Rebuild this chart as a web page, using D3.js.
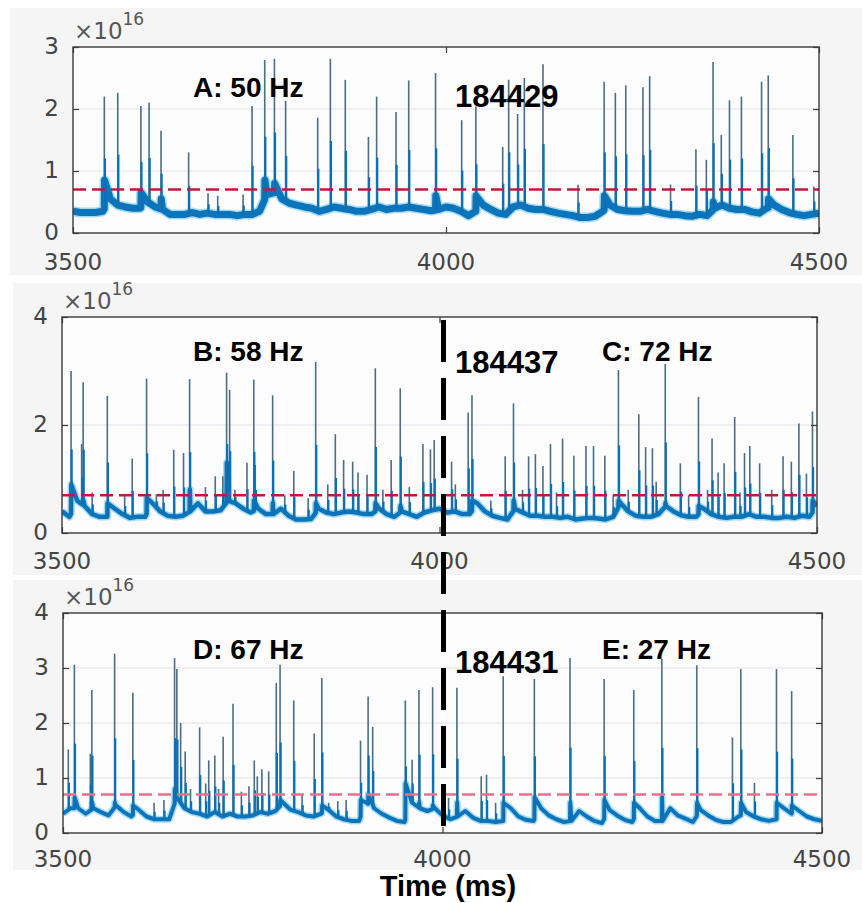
<!DOCTYPE html>
<html>
<head>
<meta charset="utf-8">
<script src="https://cdn.jsdelivr.net/npm/d3@7"></script>
<style>body{margin:0;background:#fff;}</style>
</head>
<body>
<script>
const width = 862;
const height = 903;

// time axis (ms) and baseline sampling grid
const timeTicks = [3500, 4000, 4500];
const baseStart = 3500, baseStep = 10;
const threshold = 0.7;   // x 10^16

// slow baseline of each trace, every 10 ms from 3500 to 4500 (x 10^16)
const baseA = [0.35,0.33,0.33,0.33,0.35,0.55,0.45,0.42,0.4,0.4,
  0.5,0.42,0.38,0.3,0.3,0.3,0.33,0.3,0.32,0.3,
  0.3,0.3,0.28,0.3,0.3,0.35,0.62,0.65,0.55,0.48,
  0.45,0.42,0.4,0.35,0.38,0.42,0.4,0.38,0.35,0.35,
  0.38,0.42,0.38,0.4,0.4,0.42,0.4,0.38,0.36,0.38,
  0.42,0.4,0.35,0.28,0.35,0.45,0.38,0.32,0.3,0.42,
  0.45,0.4,0.38,0.38,0.35,0.32,0.3,0.28,0.25,0.25,
  0.27,0.35,0.45,0.38,0.36,0.35,0.35,0.38,0.35,0.32,
  0.3,0.3,0.28,0.27,0.3,0.28,0.4,0.45,0.4,0.38,
  0.38,0.34,0.32,0.4,0.45,0.38,0.33,0.3,0.28,0.3,0.32];
const baseB = [0.4,0.3,0.6,0.5,0.35,0.3,0.3,0.45,0.35,0.28,
  0.3,0.3,0.55,0.4,0.32,0.3,0.32,0.4,0.55,0.4,
  0.4,0.42,0.6,0.55,0.45,0.38,0.45,0.35,0.35,0.45,
  0.32,0.25,0.25,0.26,0.45,0.38,0.35,0.38,0.4,0.38,
  0.35,0.35,0.45,0.35,0.3,0.4,0.35,0.3,0.38,0.42,
  0.45,0.38,0.4,0.35,0.35,0.55,0.4,0.32,0.28,0.25,
  0.45,0.38,0.32,0.32,0.3,0.3,0.28,0.3,0.25,0.27,
  0.28,0.27,0.25,0.3,0.55,0.4,0.32,0.3,0.3,0.35,
  0.5,0.4,0.33,0.3,0.3,0.45,0.35,0.3,0.28,0.3,
  0.3,0.35,0.3,0.3,0.28,0.28,0.3,0.28,0.32,0.3,0.5];
const baseC = [0.35,0.45,0.45,0.35,0.45,0.38,0.32,0.5,0.38,0.3,
  0.42,0.3,0.25,0.25,0.25,0.65,0.45,0.38,0.35,0.3,
  0.38,0.3,0.35,0.3,0.3,0.32,0.38,0.35,0.4,0.55,
  0.42,0.38,0.32,0.3,0.35,0.42,0.3,0.25,0.22,0.22,
  0.55,0.45,0.35,0.28,0.22,0.2,0.55,0.45,0.4,0.45,
  0.32,0.25,0.3,0.4,0.28,0.22,0.22,0.2,0.22,0.45,
  0.3,0.24,0.22,0.45,0.32,0.25,0.2,0.22,0.4,0.3,
  0.22,0.18,0.42,0.32,0.24,0.2,0.45,0.3,0.22,0.22,
  0.45,0.32,0.26,0.2,0.42,0.32,0.24,0.2,0.2,0.3,
  0.38,0.3,0.25,0.22,0.25,0.45,0.35,0.4,0.3,0.25,0.22];

// spikes: [time ms, peak, level just after the spike (0 = none)]
const spikesA = [[3542,2.2,0.85],[3560,2.26,0],[3591,2.05,0.65],[3602,2.1,0],[3618,1.65,0.55],
  [3655,1.3,0],[3681,0.64,0],[3694,0.6,0],[3728,0.62,0],[3740,2.05,0],[3757,2.79,0.85],
  [3770,2.81,0.8],[3785,2.13,0],[3828,1.86,0],[3845,2.81,0],[3865,2.47,0],[3896,1.55,0],
  [3907,2.2,0],[3933,1.95,0],[3950,2.46,0],[3986,2.58,0.6],[4021,1.82,0],[4040,2.04,0.6],
  [4076,1.39,0],[4084,2.47,0],[4096,1.92,0],[4105,2.5,0],[4130,2.72,0],[4177,0.78,0],
  [4212,2.44,0.6],[4227,2.26,0],[4241,2.38,0],[4264,2.35,0],[4273,2.53,0],[4301,0.78,0],
  [4335,1.35,0],[4349,1.18,0],[4358,2.76,0.5],[4369,1.58,0],[4380,2.14,0],[4396,2.2,0],
  [4423,2.44,0],[4432,2.54,0.55],[4465,1.58,0],[4493,0.75,0]];
const spikesB = [[3512,3.0,0.9],[3526,1.65,0],[3528,2.79,0.6],[3540,0.75,0],[3560,2.54,0.55],
  [3583,0.7,0],[3593,1.38,0],[3612,2.86,0.65],[3625,0.72,0],[3634,0.8,0],[3648,1.54,0],
  [3661,1.48,0],[3669,2.85,0.8],[3690,0.85,0],[3703,1.05,0],[3713,1.05,0],[3718,2.97,1.3],
  [3722,2.65,0],[3729,0.8,0],[3745,1.3,0],[3754,2.84,0.6],[3756,1.26,0],[3779,2.55,0.55],
  [3795,0.7,0],[3807,1.15,0],[3826,0.65,0],[3836,3.17,0.55],[3852,0.9,0],[3862,1.83,0],
  [3873,1.35,0],[3885,1.32,0],[3892,1.12,0],[3904,1.08,0],[3915,3.05,0.55],[3925,0.8,0],
  [3936,1.35,0],[3948,2.68,0.5],[3960,0.85,0],[3978,1.65,0],[3988,1.55,0],[3993,1.72,0],
  [4016,1.32,0],[4021,0.9,0],[4038,2.23,0],[4043,2.55,0.6],[4068,0.6,0],[4087,1.42,0],
  [4098,2.4,0.6],[4110,0.8,0],[4118,1.42,0],[4127,1.46,0],[4137,1.24,0],[4147,1.65,0],
  [4155,0.75,0],[4163,1.75,0],[4178,1.43,0],[4194,1.61,0],[4204,1.61,0],[4219,1.43,0],
  [4230,0.7,0],[4237,3.02,0.6],[4250,0.8,0],[4264,2.2,0],[4273,1.59,0],[4282,1.57,0],
  [4287,0.95,0],[4299,3.13,0.55],[4319,1.29,0],[4330,0.7,0],[4343,2.52,0.5],[4355,0.8,0],
  [4361,1.75,0],[4369,1.12,0],[4377,1.29,0],[4391,2.15,0],[4398,0.75,0],[4404,1.48,0],
  [4411,1.61,0],[4424,1.29,0],[4440,0.8,0],[4455,1.42,0],[4466,1.32,0],[4476,2.03,0],
  [4486,1.1,0],[4494,2.25,0.6]];
const spikesC = [[3507,1.52,0],[3515,3.06,0.65],[3536,1.44,0],[3538,2.6,0.55],[3568,3.26,0.55],
  [3592,2.55,0.5],[3620,0.55,0],[3633,0.6,0],[3647,3.18,0.8],[3650,2.98,0],[3655,2.0,0],
  [3661,1.48,0],[3668,0.8,0],[3680,1.92,0],[3688,0.9,0],[3692,1.32,0],[3700,1.41,0],
  [3705,0.8,0],[3711,1.75,0],[3724,2.35,0],[3735,0.75,0],[3745,0.85,0],[3752,1.32,0],
  [3756,1.03,0],[3762,1.16,0],[3771,1.12,0],[3781,2.73,0],[3786,3.06,0.6],[3804,2.41,0],
  [3815,0.7,0],[3831,1.81,0],[3841,2.82,0.5],[3850,0.55,0],[3862,0.58,0],[3873,0.6,0],
  [3892,1.68,0.6],[3902,2.48,0.7],[3908,1.93,0],[3951,2.41,0.9],[3960,1.33,0],[3969,2.6,0.55],
  [3987,2.65,0.5],[4008,0.64,0],[4019,2.64,0.55],[4051,1.03,0],[4058,1.06,0],[4070,0.55,0],
  [4080,2.85,0.55],[4121,2.8,0.65],[4168,3.18,0.55],[4213,2.8,0.6],[4252,2.6,0.55],
  [4289,3.17,0.65],[4335,3.05,0.55],[4382,1.74,0],[4393,2.98,0.55],[4411,0.91,0],
  [4440,2.98,0.55],[4460,2.58,0.5]];

// annotation texts
const labelsA = ['A: 50 Hz'];
const labelsB = ['B: 58 Hz', 'C: 72 Hz'];
const labelsC = ['D: 67 Hz', 'E: 27 Hz'];
const cellIds = ['184429', '184437', '184431'];

// layout of each panel
const panels = [
  {base: baseA, spikes: spikesA, labels: labelsA, id: cellIds[0], yTicks: [0,1,2,3], ymax: 3,
   left: 73, right: 819, top: 47, bottom: 233, bg: [10, 8, 275], band: 7, red: '#c8143c',
   labelY: 97, idY: 107, xLabY: 270},
  {base: baseB, spikes: spikesB, labels: labelsB, id: cellIds[1], yTicks: [0,2,4], ymax: 4,
   left: 62, right: 817, top: 317, bottom: 533, bg: [13, 283, 575], band: 4.5, red: '#c8143c',
   labelY: 361, idY: 373, xLabY: 569},
  {base: baseC, spikes: spikesC, labels: labelsC, id: cellIds[2], yTicks: [0,1,2,3,4], ymax: 4,
   left: 63, right: 822, top: 613, bottom: 833, bg: [13, 580, 870], band: 4, red: '#e5708c',
   labelY: 659, idY: 673, xLabY: 867}
];

const svg = d3.select('body').append('svg').attr('width', width).attr('height', height);

function baseAt(base, t) {
  const i = (t - baseStart) / baseStep;
  const i0 = Math.max(0, Math.min(base.length - 1, Math.floor(i)));
  const i1 = Math.min(base.length - 1, i0 + 1);
  const f = i - i0;
  return base[i0] * (1 - f) + base[i1] * f;
}

panels.forEach(function(p, k) {
  const x = d3.scaleLinear().domain([3500, 4500]).range([p.left, p.right]);
  const y = d3.scaleLinear().domain([0, p.ymax]).range([p.bottom, p.top]);
  p.x = x;

  svg.append('rect').attr('x', p.bg[0]).attr('y', p.bg[1])
    .attr('width', width - p.bg[0]).attr('height', p.bg[2] - p.bg[1])
    .style('fill', '#f5f5f5');
  svg.append('rect').attr('x', p.left).attr('y', p.top)
    .attr('width', p.right - p.left).attr('height', p.bottom - p.top)
    .style('fill', '#fcfcfc');

  const clipId = 'clip' + k;
  svg.append('clipPath').attr('id', clipId).append('rect')
    .attr('x', p.left).attr('y', p.top).attr('width', p.right - p.left).attr('height', p.bottom - p.top);
  const g = svg.append('g').attr('clip-path', 'url(#' + clipId + ')');

  // grid
  g.selectAll('.grid').data(p.yTicks.slice(1, -1)).enter().append('line')
    .attr('x1', p.left).attr('x2', p.right)
    .attr('y1', function(d){ return y(d); }).attr('y2', function(d){ return y(d); })
    .style('stroke', '#e6e0ec').style('stroke-width', 1);

  // baseline band with jumps after spikes
  const pts = p.base.map(function(v, i){ return [baseStart + i * baseStep, v]; });
  p.spikes.forEach(function(s) {
    if (s[2] > 0) {
      pts.push([s[0] - 0.05, baseAt(p.base, s[0])]);
      pts.push([s[0] + 0.3, s[2]]);
    }
  });
  pts.sort(function(a, b){ return a[0] - b[0]; });
  const line = d3.line().x(function(d){ return x(d[0]); }).y(function(d){ return y(d[1]); });
  g.append('path').attr('d', line(pts))
    .style('fill', 'none').style('stroke', '#a6dcf2').style('stroke-width', p.band + 3)
    .style('stroke-linejoin', 'round');
  g.append('path').attr('d', line(pts))
    .style('fill', 'none').style('stroke', '#0b74bb').style('stroke-width', p.band)
    .style('stroke-linejoin', 'round');

  // spikes
  g.selectAll('.spk').data(p.spikes).enter().append('line')
    .attr('x1', function(d){ return x(d[0]); }).attr('x2', function(d){ return x(d[0]); })
    .attr('y1', function(d){ return y(baseAt(p.base, d[0])); })
    .attr('y2', function(d){ return y(d[1]); })
    .style('stroke', '#4a6d88').style('stroke-width', 1.6);
  g.selectAll('.spkb').data(p.spikes).enter().append('line')
    .attr('x1', function(d){ return x(d[0]) + 0.6; }).attr('x2', function(d){ return x(d[0]) + 0.6; })
    .attr('y1', function(d){ return y(baseAt(p.base, d[0])); })
    .attr('y2', function(d){ const b = baseAt(p.base, d[0]); return y(b + (d[1] - b) * 0.45); })
    .style('stroke', '#0a70b6').style('stroke-width', 2.2);

  // threshold
  g.append('line').attr('x1', p.left).attr('x2', p.right)
    .attr('y1', y(threshold)).attr('y2', y(threshold))
    .style('stroke', p.red).style('stroke-width', 2.5).style('stroke-dasharray', '13,6');

  // box and ticks
  svg.append('rect').attr('x', p.left).attr('y', p.top)
    .attr('width', p.right - p.left).attr('height', p.bottom - p.top)
    .style('fill', 'none').style('stroke', '#3a3a3a').style('stroke-width', 1.4);
  svg.append('g').attr('transform', 'translate(' + p.left + ',0)')
    .call(d3.axisLeft(y).tickValues(p.yTicks).tickSize(-6).tickPadding(14).tickFormat(d3.format('d')))
    .call(function(a){ a.select('.domain').remove(); });
  svg.append('g').attr('transform', 'translate(' + p.right + ',0)')
    .call(d3.axisRight(y).tickValues(p.yTicks).tickSize(-6).tickFormat(''))
    .call(function(a){ a.select('.domain').remove(); });
  svg.append('g').attr('transform', 'translate(0,' + p.bottom + ')')
    .call(d3.axisBottom(x).tickValues(timeTicks).tickSize(-6).tickFormat(''))
    .call(function(a){ a.select('.domain').remove(); });
  svg.append('g').attr('transform', 'translate(0,' + p.top + ')')
    .call(d3.axisTop(x).tickValues(timeTicks).tickSize(-6).tickFormat(''))
    .call(function(a){ a.select('.domain').remove(); });
  svg.selectAll('.tick line').style('stroke', '#3a3a3a').style('stroke-width', 1.2);
  svg.selectAll('.tick text').style('font-family', 'DejaVu Sans').style('font-size', '23px').style('fill', '#444')
    .attr('dy', '0.3em');

  svg.selectAll('.xl' + k).data(timeTicks).enter().append('text')
    .attr('x', function(d){ return x(d); }).attr('y', p.xLabY)
    .attr('text-anchor', 'middle')
    .style('font-family', 'DejaVu Sans').style('font-size', '23px').style('fill', '#444')
    .text(function(d){ return d; });

  const ex = svg.append('text').attr('x', p.left + 1).attr('y', p.top - 8)
    .style('font-family', 'DejaVu Sans').style('font-size', '23px').style('fill', '#555');
  ex.append('tspan').text('×10');
  ex.append('tspan').attr('dy', -14).style('font-size', '17px').text('16');

  // annotations
  svg.selectAll('.lab' + k).data(p.labels).enter().append('text')
    .attr('x', function(d, i){ return i === 0 ? 193 : 602; }).attr('y', p.labelY)
    .style('font-family', 'Liberation Sans, Arial, sans-serif').style('font-weight', 'bold')
    .style('font-size', '28px').style('fill', '#000')
    .text(function(d){ return d; });
  svg.append('text').attr('x', 455).attr('y', p.idY)
    .style('font-family', 'Liberation Sans, Arial, sans-serif').style('font-weight', 'bold')
    .style('font-size', '31px').style('fill', '#000')
    .text(p.id);
});

// dashed marker at 4000 ms through panels B and C
const xm = panels[2].x(4000) + 1;
svg.append('line').attr('x1', xm).attr('x2', xm).attr('y1', 320).attr('y2', 835)
  .style('stroke', '#000').style('stroke-width', 5).style('stroke-dasharray', '42,16');

svg.append('text').attr('x', 448).attr('y', 896).attr('text-anchor', 'middle')
  .style('font-family', 'Liberation Sans, Arial, sans-serif').style('font-weight', 'bold')
  .style('font-size', '29px').text('Time (ms)');
</script>
</body>
</html>
